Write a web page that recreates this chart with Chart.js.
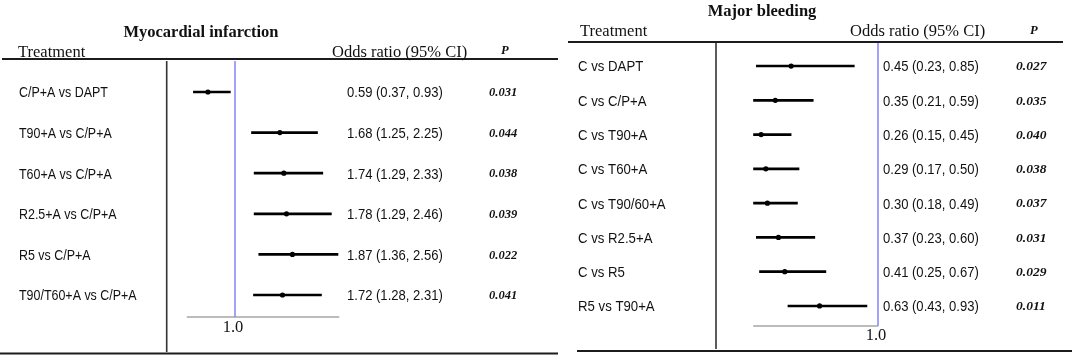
<!DOCTYPE html>
<html lang="en">
<head>
<meta charset="UTF-8">
<title>Myocardial infarction / Major bleeding forest plots</title>
<script src="https://cdn.jsdelivr.net/npm/chart.js"></script>
<style>
    body { margin: 0; background: #fff; }
    #wrap { position: relative; width: 1072px; height: 357px; overflow: hidden; }
    canvas { position: absolute; top: 0; }
</style>
</head>
<body>
<div id="wrap">
    <canvas id="miChart" width="560" height="357" style="left:0"></canvas>
    <canvas id="mbChart" width="512" height="357" style="left:560px"></canvas>
</div>
<script>
// Myocardial infarction
const miLabels = ['C/P+A vs DAPT', 'T90+A vs C/P+A', 'T60+A vs C/P+A', 'R2.5+A vs C/P+A', 'R5 vs C/P+A', 'T90/T60+A vs C/P+A'];
const miOR   = [0.59, 1.68, 1.74, 1.78, 1.87, 1.72];
const miLow  = [0.37, 1.25, 1.29, 1.29, 1.36, 1.28];
const miHigh = [0.93, 2.25, 2.33, 2.46, 2.56, 2.31];
const miP    = ['0.031', '0.044', '0.038', '0.039', '0.022', '0.041'];
const miAxis = [0.27, 2.58];

// Major bleeding
const mbLabels = ['C vs DAPT', 'C vs C/P+A', 'C vs T90+A', 'C vs T60+A', 'C vs T90/60+A', 'C vs R2.5+A', 'C vs R5', 'R5 vs T90+A'];
const mbOR   = [0.45, 0.35, 0.26, 0.29, 0.30, 0.37, 0.41, 0.63];
const mbLow  = [0.23, 0.21, 0.15, 0.17, 0.18, 0.23, 0.25, 0.43];
const mbHigh = [0.85, 0.59, 0.45, 0.50, 0.49, 0.60, 0.67, 0.93];
const mbP    = ['0.027', '0.035', '0.040', '0.038', '0.037', '0.031', '0.029', '0.011'];
const mbAxis = [0.21, 1.0];

const SERIF = '"Liberation Serif", "Times New Roman", serif';
const SANS = '"Liberation Sans", Arial, sans-serif';

function fmtCI(i, or, lo, hi) {
    return or[i].toFixed(2) + ' (' + lo[i].toFixed(2) + ', ' + hi[i].toFixed(2) + ')';
}

function drawForest(canvasId, title, labels, or, low, high, pvals, axis, lay) {
    const tablePlugin = {
        id: 'forestTable',
        beforeDatasetsDraw(chart) {
            const ctx = chart.ctx;
            const xs = chart.scales.x, ys = chart.scales.y, area = chart.chartArea;
            const refX = xs.getPixelForValue(1);

            function seg(x1, y1, x2, y2, color, w) {
                ctx.beginPath();
                ctx.strokeStyle = color;
                ctx.lineWidth = w;
                ctx.moveTo(x1, y1);
                ctx.lineTo(x2, y2);
                ctx.stroke();
            }
            // the sans text in the figure is squeezed sideways, hence sx
            function text(str, x, y, font, align, sx) {
                ctx.save();
                ctx.translate(x, y);
                ctx.scale(sx || 1, 1);
                ctx.font = font;
                ctx.textAlign = align || 'left';
                ctx.textBaseline = 'alphabetic';
                ctx.fillStyle = '#111';
                ctx.fillText(str, 0, 0);
                ctx.restore();
            }

            ctx.save();
            // table rules
            seg(lay.topRule[0], lay.topRule[2], lay.topRule[1], lay.topRule[2], '#1c1c1c', 1.8);
            seg(lay.botRule[0], lay.botRule[2], lay.botRule[1], lay.botRule[2], '#1c1c1c', 1.8);
            // separator between labels and plot
            seg(lay.sepX, lay.sepTop, lay.sepX, lay.sepBottom, '#333', 1.6);
            // x axis and null line
            seg(area.left, lay.axisY, area.right, lay.axisY, '#a6a6a6', 1.6);
            seg(refX, lay.sepTop, refX, lay.axisY, '#8484ff', 1.5);
            text('1.0', refX - 2, lay.tickY, '16.5px ' + SERIF, 'center');

            // headers
            text(title, lay.titleX, lay.titleY, 'bold 16.5px ' + SERIF, 'center');
            text('Treatment', lay.treatX, lay.headY, '16.5px ' + SERIF);
            text('Odds ratio (95% CI)', lay.orHeadX, lay.headY, '16.5px ' + SERIF);
            text('P', lay.pHeadX, lay.pHeadY, 'italic bold 12.5px ' + SERIF);

            // rows
            labels.forEach((lab, i) => {
                const yy = ys.getPixelForValue(i);
                text(lab, lay.labelX, yy + 5.4, '15px ' + SANS, 'left', lay.labelSx);
                text(fmtCI(i, or, low, high), lay.orX, yy + 5.4, '15px ' + SANS, 'left', 0.87);
                text(pvals[i], lay.pX, yy + 4.2, 'italic bold ' + lay.pSize + 'px ' + SERIF);
            });
            ctx.restore();
        }
    };

    return new Chart(document.getElementById(canvasId), {
        data: {
            labels: labels,
            datasets: [
                {
                    type: 'bar',
                    indexAxis: 'y',
                    data: labels.map((l, i) => [low[i], high[i]]),
                    backgroundColor: '#000',
                    barThickness: 2,
                    borderWidth: 0
                },
                {
                    type: 'line',
                    indexAxis: 'y',
                    showLine: false,
                    data: labels.map((l, i) => ({ x: or[i], y: l })),
                    pointRadius: 2.6,
                    pointBackgroundColor: '#000',
                    pointBorderWidth: 0
                }
            ]
        },
        options: {
            responsive: false,
            animation: false,
            layout: { padding: lay.padding },
            plugins: { legend: { display: false }, tooltip: { enabled: false } },
            scales: {
                x: { type: 'linear', min: axis[0], max: axis[1], display: false },
                y: { type: 'category', offset: true, display: false }
            }
        },
        plugins: [tablePlugin]
    });
}

drawForest('miChart', 'Myocardial infarction', miLabels, miOR, miLow, miHigh, miP, miAxis, {
    padding: { left: 186.8, right: 220.7, top: 71.7, bottom: 41.7 },
    topRule: [2, 558, 59], botRule: [0, 558, 353.5],
    sepX: 166.7, sepTop: 61, sepBottom: 352,
    axisY: 317, tickY: 332,
    titleX: 201, titleY: 37,
    treatX: 18, orHeadX: 332, headY: 57, pHeadX: 501, pHeadY: 54,
    labelX: 19, labelSx: 0.83, orX: 347, pX: 489, pSize: 12.5
});

drawForest('mbChart', 'Major bleeding', mbLabels, mbOR, mbLow, mbHigh, mbP, mbAxis, {
    padding: { left: 193.2, right: 194, top: 48.9, bottom: 33.9 },
    topRule: [8, 503, 42], botRule: [17, 512, 351],
    sepX: 156, sepTop: 43, sepBottom: 349,
    axisY: 326, tickY: 340,
    titleX: 202, titleY: 16,
    treatX: 20, orHeadX: 290, headY: 36, pHeadX: 470, pHeadY: 34,
    labelX: 18, labelSx: 0.88, orX: 323, pX: 456, pSize: 13.5
});
</script>
</body>
</html>
